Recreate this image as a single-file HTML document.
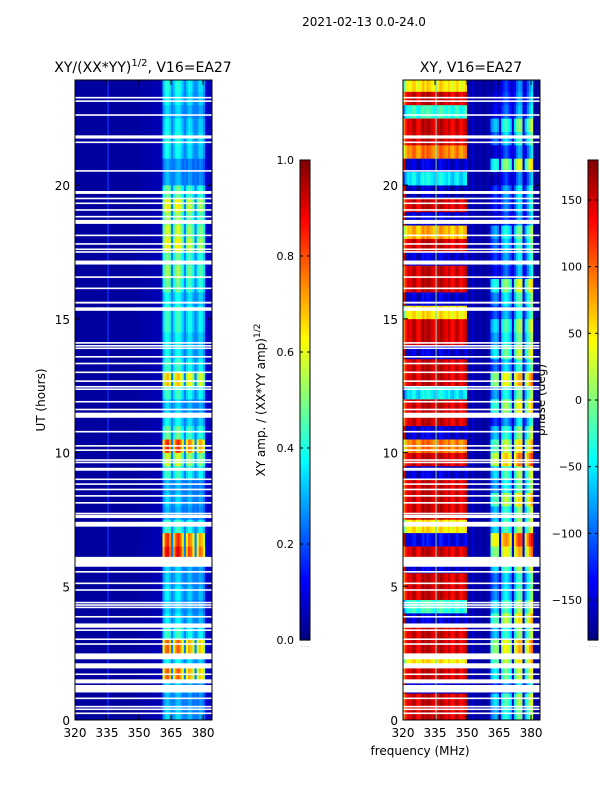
<!DOCTYPE html>
<html><head><meta charset="utf-8">
<style>
body{margin:0;background:#fff;}
svg{display:block;font-family:"DejaVu Sans","Liberation Sans",sans-serif;}
</style></head>
<body>
<svg id="fig" width="600" height="800" viewBox="0 0 600 800">
  <text x="364" y="26" font-size="12" text-anchor="middle">2021-02-13 0.0-24.0</text>
  <text x="143" y="72" font-size="14" text-anchor="middle">XY/(XX*YY)<tspan font-size="10" dy="-6">1/2</tspan><tspan dy="6">, V16=EA27</tspan></text>
  <text x="471" y="72" font-size="14" text-anchor="middle">XY, V16=EA27</text>
  <text transform="translate(45,400) rotate(-90)" font-size="12" text-anchor="middle">UT (hours)</text>
  <text x="420" y="755" font-size="12" text-anchor="middle">frequency (MHz)</text>
  <text transform="translate(265,400) rotate(-90)" font-size="12" text-anchor="middle">XY amp. / (XX*YY amp)<tspan font-size="9" dy="-5">1/2</tspan></text>
  <text transform="translate(545,400) rotate(-90)" font-size="12" text-anchor="middle">phase (deg)</text>
  <g id="left"></g>
  <g id="right"></g>
  <g id="cb"></g>
  <g id="axes"></g>
</svg>
<script>
// ---- data ----
const freqStart = 320, freqBinMHz = 1, hourBin = 0.5;
// amplitude per frequency channel (1 MHz bins 320..383)
const colAmp = [0.03,0.03,0.03,0.03,0.03,0.03,0.03,0.03,0.03,0.03,0.03,0.03,0.03,0.03,0.03,0.06,0.03,0.03,0.03,0.03,
  0.03,0.03,0.03,0.03,0.03,0.03,0.03,0.03,0.03,0.03,0.04,0.04,0.04,0.04,0.04,0.04,0.05,0.05,0.05,0.05,
  0.06,0.75,0.95,1.0,0.85,0.25,0.8,0.95,1.0,0.9,0.75,0.25,0.75,0.9,0.85,0.7,0.25,0.7,0.85,0.8,0.65,0.08,0.06,0.06];
// band amplitude per half-hour (0..24h)
const rowAmp = [0.35,0.32,0.35,0.8,0.4,0.8,0.45,0.38,0.35,0.38,0.35,0.35,0.92,0.85,0.45,0.32,0.35,0.32,0.45,0.6,
  0.85,0.5,0.4,0.35,0.45,0.7,0.45,0.4,0.4,0.45,0.45,0.4,0.5,0.55,0.5,0.65,0.6,0.55,0.65,0.5,
  0.32,0.3,0.4,0.42,0.4,0.35,0.4,0.42];
// phase per frequency channel (deg)
const colPhase = [90,130,150,140,160,165,140,130,150,170,150,170,160,150,140,130,150,170,160,150,
  140,160,140,130,150,165,140,130,150,160,-165,-170,-150,-160,-170,-165,-160,-170,-170,-165,
  -160,-60,-40,-30,-50,-150,-20,0,10,-10,-30,-150,-20,20,40,30,-150,-30,10,40,60,-170,-170,-170];
// phase offsets per half-hour: low-frequency group, band group
const rowPhaseLow = [0,0,-300,0,-100,0,0,-300,-180,0,0,-300,0,-290,-100,0,0,0,-300,0,
  -60,-300,0,0,-200,0,0,-300,0,0,-100,-300,0,0,-300,0,-80,-300,0,-310,
  -200,-300,-60,0,0,-180,0,-100];
const rowPhaseBand = [-40,-20,-80,-10,20,40,-30,20,-20,-50,-60,-20,40,80,-20,-30,20,-40,-20,60,
  20,-30,-80,10,-40,40,-60,-10,-40,-20,-70,-50,0,-100,-80,-60,-40,-110,-90,-80,
  -120,0,-110,-60,-30,-100,-110,-120];
// flagged time ranges (hours) -> white rows
const flags = [[0.22,0.28],[0.37,0.43],[0.47,0.53],[0.78,0.84],[1.03,1.31],[1.37,1.52],[1.68,1.74],[1.93,2.12],
  [2.27,2.49],[2.81,2.87],[2.99,3.05],[3.33,3.39],[3.45,3.61],[3.83,3.89],[4.18,4.24],[4.27,4.33],[4.36,4.42],
  [4.83,4.89],[5.08,5.14],[5.51,5.57],[5.73,6.1],[7.23,7.41],[7.55,7.61],[7.61,7.67],[7.69,7.75],[8.09,8.15],
  [8.35,8.41],[8.59,8.65],[8.79,8.85],[8.97,9.03],[9.32,9.43],[9.6,9.66],[9.69,9.75],[10.06,10.12],[10.22,10.28],
  [10.75,10.81],[11.3,11.49],[11.58,11.64],[11.87,11.93],[12.34,12.4],[12.43,12.49],[12.64,12.7],[12.97,13.03],
  [13.3,13.36],[13.55,13.61],[13.87,13.93],[13.96,14.02],[14.07,14.13],[15.3,15.43],[15.57,15.64],[16.11,16.17],
  [16.53,16.59],[17.03,17.18],[17.47,17.53],[17.57,17.63],[17.77,17.83],[18.09,18.15],[18.55,18.7],[18.79,18.85],
  [19.04,19.1],[19.29,19.35],[19.47,19.53],[19.67,19.78],[20.5,20.56],[21.57,21.63],[21.74,21.86],[22.59,22.65],
  [23.11,23.17],[23.24,23.3]];
const yTicks = [0,5,10,15,20];
const xTicks = [320,335,350,365,380];
const ampTicks = [0.0,0.2,0.4,0.6,0.8,1.0];
const phaseTicks = [-150,-100,-50,0,50,100,150];

// ---- scales ----
const NS='http://www.w3.org/2000/svg';
const panels = [{g:'left',x0:75},{g:'right',x0:403}];
const PW=137, PT=80, PB=720, fMin=320, fMax=384.2, hMax=23.93;
function xs(x0,f){return x0+(f-fMin)/(fMax-fMin)*PW;}
function ys(h){return PB-(h/hMax)*(PB-PT);}
function jet(t){t=Math.max(0,Math.min(1,t));
  const c=v=>Math.round(255*Math.max(0,Math.min(1,v)));
  return `rgb(${c(1.5-Math.abs(4*t-3))},${c(1.5-Math.abs(4*t-2))},${c(1.5-Math.abs(4*t-1))})`;}
function mk(tag,attrs,parent){const e=document.createElementNS(NS,tag);for(const k in attrs)e.setAttribute(k,attrs[k]);parent.appendChild(e);return e;}
function wrap(p){return ((p+180)%360+360)%360-180;}

// ---- heatmaps ----
const gL=document.getElementById('left'), gR=document.getElementById('right');
for(let r=0;r<rowAmp.length;r++){
  const h0=r*hourBin, h1=Math.min(hMax,(r+1)*hourBin);
  const yT=ys(h1), yB=ys(h0);
  for(let c=0;c<colAmp.length;c++){
    const f0=freqStart+c*freqBinMHz, f1=f0+freqBinMHz;
    const band = colAmp[c]>0.3;
    const a = band ? colAmp[c]*rowAmp[r] : colAmp[c];
    let e=mk('rect',{x:xs(75,f0),y:yT,width:xs(75,f1)-xs(75,f0)+0.5,height:yB-yT+0.3,fill:jet(a)},gL);
    
    
    const off = band ? rowPhaseBand[r] : (c<30 ? rowPhaseLow[r] : 0);
    const p = wrap(colPhase[c]+off);
    e=mk('rect',{x:xs(403,f0),y:yT,width:xs(403,f1)-xs(403,f0)+0.5,height:yB-yT+0.3,fill:jet((p+180)/360)},gR);
    
    
  }
}
// 335 MHz faint line
[[gL,75,'#1a3cff'],[gR,403,'#7fd0c0']].forEach(([g,x0,col])=>{
  const e=mk('line',{x1:xs(x0,335.5),x2:xs(x0,335.5),y1:PT,y2:PB,stroke:col,'stroke-width':1},g);
  
  
});
// flags
flags.forEach(([a,b])=>{
  [[gL,75],[gR,403]].forEach(([g,x0])=>{
    const e=mk('rect',{x:x0,y:ys(b),width:PW,height:Math.max(1.3,ys(a)-ys(b)),fill:'#fff'},g);
    
    
  });
});

// ---- axes ----
const gA=document.getElementById('axes');
panels.forEach(p=>{
  let e=mk('rect',{x:p.x0,y:PT,width:PW,height:PB-PT,fill:'none',stroke:'#000','stroke-width':1},gA);
  
  
  yTicks.forEach(t=>{
    const y=ys(t);
    mk('line',{x1:p.x0,x2:p.x0+5,y1:y,y2:y,stroke:'#000'},gA);
    mk('line',{x1:p.x0+PW,x2:p.x0+PW-5,y1:y,y2:y,stroke:'#000'},gA);
    e=mk('text',{x:p.x0-5,y:y+5,'font-size':12,'text-anchor':'end'},gA);
    e.textContent=t;
    
    
  });
  xTicks.forEach(t=>{
    const x=xs(p.x0,t);
    mk('line',{x1:x,x2:x,y1:PB,y2:PB-5,stroke:'#000'},gA);
    mk('line',{x1:x,x2:x,y1:PT,y2:PT+5,stroke:'#000'},gA);
    e=mk('text',{x:x,y:PB+17,'font-size':12,'text-anchor':'middle'},gA);
    e.textContent=t;
    
    
  });
});

// ---- colorbars ----
const gC=document.getElementById('cb');
const CT=160, CB=640, CH=CB-CT;
[{x:300,ticks:ampTicks,min:0,max:1,fmt:v=>v.toFixed(1),name:'amp-colorbar'},
 {x:588,ticks:phaseTicks,min:-180,max:180,fmt:v=>v<0?'\u2212'+(-v):String(v),name:'phase-colorbar'}].forEach(cb=>{
  for(let i=0;i<120;i++){
    const e=mk('rect',{x:cb.x,y:CB-(i+1)*CH/120,width:10,height:CH/120+0.6,fill:jet((i+0.5)/120)},gC);
    
    
  }
  let e=mk('rect',{x:cb.x,y:CT,width:10,height:CH,fill:'none',stroke:'#000'},gC);
  
  
  cb.ticks.forEach(t=>{
    const y=CB-(t-cb.min)/(cb.max-cb.min)*CH;
    mk('line',{x1:cb.x,x2:cb.x+3,y1:y,y2:y,stroke:'#000'},gC);
    mk('line',{x1:cb.x+10,x2:cb.x+7,y1:y,y2:y,stroke:'#000'},gC);
    e=mk('text',{x:cb.x-6,y:y+4,'font-size':11,'text-anchor':'end'},gC);
    e.textContent=cb.fmt(t);
    
    
  });
  e=mk('text',{x:cb.x+5,y:CB+7,'font-size':5,'text-anchor':'middle',fill:'#888'},gC);
  e.textContent='......';
  
  
});
</script>
</body></html>
